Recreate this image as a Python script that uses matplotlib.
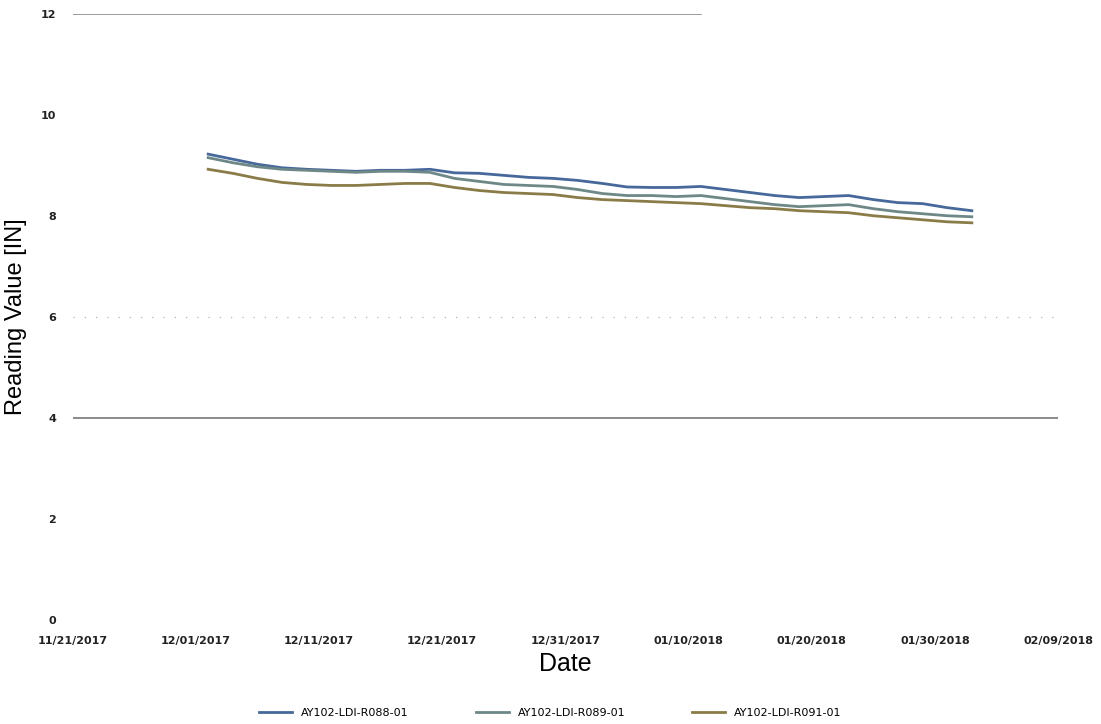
import matplotlib
matplotlib.use("Agg")
import matplotlib.pyplot as plt
import matplotlib.dates as mdates
import pandas as pd

# readings every two days, 12/02/2017 .. 02/02/2018
dates = pd.date_range("2017-12-02", "2018-02-02", freq="2D")

r088 = [9.22, 9.12, 9.02, 8.95, 8.92, 8.90, 8.88, 8.90, 8.90, 8.92, 8.85,
        8.84, 8.80, 8.76, 8.74, 8.70, 8.64, 8.57, 8.56, 8.56, 8.58, 8.52,
        8.46, 8.40, 8.36, 8.38, 8.40, 8.32, 8.26, 8.24, 8.16, 8.10]
r089 = [9.15, 9.05, 8.97, 8.92, 8.90, 8.88, 8.86, 8.88, 8.88, 8.86, 8.74,
        8.68, 8.62, 8.60, 8.58, 8.52, 8.44, 8.40, 8.40, 8.38, 8.40, 8.34,
        8.28, 8.22, 8.18, 8.20, 8.22, 8.14, 8.08, 8.04, 8.00, 7.98]
r091 = [8.92, 8.84, 8.74, 8.66, 8.62, 8.60, 8.60, 8.62, 8.64, 8.64, 8.56,
        8.50, 8.46, 8.44, 8.42, 8.36, 8.32, 8.30, 8.28, 8.26, 8.24, 8.20,
        8.16, 8.14, 8.10, 8.08, 8.06, 8.00, 7.96, 7.92, 7.88, 7.86]

labels = ["AY102-LDI-R088-01", "AY102-LDI-R089-01", "AY102-LDI-R091-01"]
colors = ["#46689a", "#6e8888", "#8a7c48"]

x_ticks = pd.date_range("2017-11-21", "2018-02-09", freq="10D")
y_ticks = [0, 2, 4, 6, 8, 10, 12]

fig = plt.figure(figsize=(11.01, 7.24), dpi=100)
ax = fig.add_axes([0.066, 0.144, 0.895, 0.837])

# reference / limit lines
ax.plot([x_ticks[0], pd.Timestamp("2018-01-11")], [12, 12],
        color="#8a8a8a", linewidth=1.2)
ax.axhline(4, color="#8a8a8a", linewidth=1.4)
ax.axhline(6, color="#b5b5b5", linewidth=0.9, linestyle=(0, (1, 8)))

for vals, lab, c in zip([r088, r089, r091], labels, colors):
    ax.plot(dates, vals, color=c, linewidth=2.0, label=lab)

ax.set_xlim(x_ticks[0], x_ticks[-1])
ax.set_ylim(0, 12)
ax.set_xticks(x_ticks)
ax.xaxis.set_major_formatter(mdates.DateFormatter("%m/%d/%Y"))
ax.set_yticks(y_ticks)
ax.tick_params(length=0, labelsize=8, pad=12)
for t in ax.get_xticklabels() + ax.get_yticklabels():
    t.set_fontweight("bold")
    t.set_color("#222222")
for s in ax.spines.values():
    s.set_visible(False)

ax.set_xlabel("Date", fontsize=18, family="Liberation Sans", labelpad=4)
ax.set_ylabel("Reading Value [IN]", fontsize=17, family="Liberation Sans",
              labelpad=10)

fig.legend(loc="lower center", bbox_to_anchor=(0.5, -0.005), ncol=3,
           frameon=False, fontsize=8, handlelength=3, columnspacing=6)

fig.savefig("out.png", dpi=100)
